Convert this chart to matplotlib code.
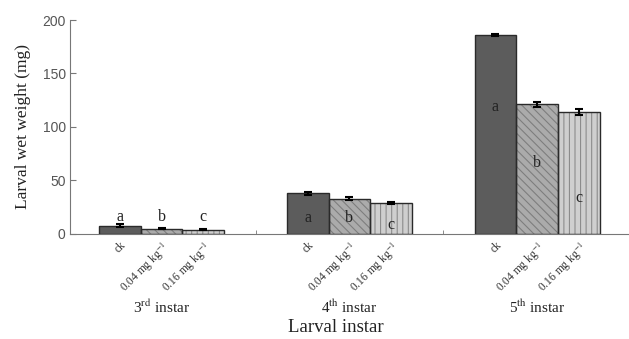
import numpy as np
import matplotlib
matplotlib.use('Agg')
import matplotlib.pyplot as plt
from matplotlib.transforms import blended_transform_factory

plt.rcParams['font.family'] = ['Liberation Serif', 'DejaVu Serif']
plt.rcParams['mathtext.fontset'] = 'stix'
plt.rcParams['hatch.linewidth'] = 0.8

# data
instars = ['3$^{\\mathrm{rd}}$ instar', '4$^{\\mathrm{th}}$ instar',
           '5$^{\\mathrm{th}}$ instar']
treatments = ['ck', '0.04 mg kg$^{\\mathrm{-1}}$', '0.16 mg kg$^{\\mathrm{-1}}$']
ck = [7.8, 38, 186]
low = [5.0, 33, 121]
high = [4.0, 29, 114]
ck_err = [1.0, 1.2, 1.0]
low_err = [0.8, 1.2, 2.0]
high_err = [0.8, 1.2, 3.0]
letters = ['a', 'b', 'c']

# where the significance letters sit, per instar (ck, 0.04, 0.16)
letter_y = [[16, 16, 16], [15, 15, 8.5], [119, 66, 34]]

values = [ck, low, high]
errors = [ck_err, low_err, high_err]
faces = ['#5c5c5c', '#ababab', '#cfcfcf']
hatches = [None, '\\\\\\\\', '|||']
hatch_cols = ['#5c5c5c', '#7e7e7e', '#8c8c8c']

group_x = np.arange(len(instars)) * 4.5
width = 1.0

fig = plt.figure(figsize=(6.29, 3.39), dpi=100)
ax = fig.add_axes([0.111, 0.31, 0.889, 0.631])

tick_pos = []
tick_lab = []
for j in range(3):
    xs = group_x + j * width
    # hatched fill first, then a dark outline on top
    ax.bar(xs, values[j], width, color=faces[j], hatch=hatches[j],
           edgecolor=hatch_cols[j], linewidth=0, zorder=2)
    ax.bar(xs, values[j], width, fill=False, edgecolor='#2a2a2a',
           linewidth=1.0, zorder=3)
    ax.errorbar(xs, values[j], yerr=errors[j], fmt='none', ecolor='black',
                elinewidth=1.5, capsize=3, capthick=1.5, zorder=4)
    for i in range(3):
        tick_pos.append(xs[i])
        tick_lab.append(treatments[j])
        ax.text(xs[i], letter_y[i][j], letters[j], ha='center', va='center',
                fontsize=11.5, color='#222222', zorder=5)

ax.set_xlim(-1.2, 12.2)
ax.set_ylim(0, 200)
ax.set_yticks([0, 50, 100, 150, 200])
for lab in ax.get_yticklabels():
    lab.set_family('Liberation Sans')
ax.tick_params(axis='y', direction='in', length=4, color='#777777',
               labelsize=10, labelcolor='#555555', pad=3)

order = np.argsort(tick_pos)
ax.set_xticks(np.array(tick_pos)[order])
ax.set_xticklabels(np.array(tick_lab)[order], rotation=45, ha='right',
                   rotation_mode='anchor', fontsize=8.3, color='#333333')
ax.tick_params(axis='x', length=0, pad=4)

seps = (group_x[:-1] + 2.5 + group_x[1:] - 0.5) / 2
ax.set_xticks(seps, minor=True)
ax.tick_params(axis='x', which='minor', direction='in', length=3,
               color='#777777')

for side in ['top', 'right']:
    ax.spines[side].set_visible(False)
for side in ['left', 'bottom']:
    ax.spines[side].set_color('#777777')

trans = blended_transform_factory(ax.transData, ax.transAxes)
for g, name in zip(group_x, instars):
    ax.text(g + width, -0.345, name, transform=trans, ha='center', va='center',
            fontsize=11, color='#222222')

fig.text(0.534, 0.035, 'Larval instar', ha='center', va='center',
         fontsize=13.5, color='#222222')
ax.set_ylabel('Larval wet weight (mg)', fontsize=12.5, color='#222222',
              labelpad=8)

fig.savefig('out.png', dpi=100)
